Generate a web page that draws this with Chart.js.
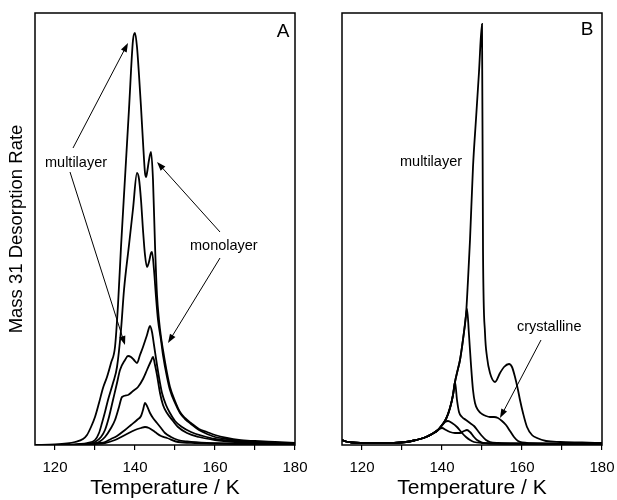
<!DOCTYPE html>
<html><head><meta charset="utf-8">
<script src="https://cdn.jsdelivr.net/npm/chart.js@4.4.0/dist/chart.umd.min.js"></script>
<style>
html,body{margin:0;padding:0;background:#fff;}
#wrap{position:relative;width:617px;height:500px;overflow:hidden;}
#cA{position:absolute;left:0;top:0;}
#cB{position:absolute;left:305px;top:0;}
</style></head><body>
<div id="wrap"><canvas id="cA" width="325" height="500"></canvas><canvas id="cB" width="312" height="500"></canvas></div>
<script>
// ---------- data (temperature K, desorption rate arb. units) ----------
const xTicks = [120,130,140,150,160,170,180];
const xTickLabels = ['120','','140','','160','','180'];
const xTitle = 'Temperature / K';
const yTitle = 'Mass 31 Desorption Rate';

// Panel A
const a1 = [[115,0],[120,0.5],[123,1.5],[125,3],[127,6],[128,10],[129,18],[130,28],[131,42],[132,57],[133,68],[134,82],[135,98],[135.75,140],[136.5,198],[137.5,267],[138.5,336],[139.5,405],[140,412],[140.5,398],[141,370],[141.5,338],[142,303],[142.5,272],[142.75,268],[143,272],[143.5,285],[144,293],[144.5,265],[145,200],[145.5,150],[146,125],[146.5,108],[147,95],[148,72],[148.75,58],[150,44],[151.25,33],[152.5,27],[154,22],[156,16],[158,13],[160,10],[163,7],[166,5],[170,4],[175,3],[180,2]];
const a2 = [[115,0],[122,0],[126,1],[128,2],[130,5],[131,12],[131.75,22],[132.5,33],[133.25,45],[134.5,62],[135.5,78],[136.5,115],[137.25,155],[138.5,200],[139.5,236],[140.5,272],[141,266],[141.5,245],[142,215],[142.5,190],[143,178],[143.5,183],[144,192],[144.25,193],[144.75,175],[145.25,148],[145.75,125],[146.5,105],[147,90],[148,68],[148.75,55],[150,42],[151.25,32],[152.5,26],[154,21],[156,15],[158,11],[160,8],[163,6],[166,4],[170,3],[175,2],[180,1.5]];
const a3 = [[115,0],[124,0],[128,1],[130,3],[131.5,8],[132.5,15],[133.5,28],[134.5,45],[135.5,62],[136.25,75],[137.5,85],[138.25,89],[139,88],[139.75,85],[140.5,82],[141.25,90],[142,98],[143,110],[143.75,119],[144.25,113],[144.75,100],[145.5,80],[146.25,62],[146.75,52],[147.75,40],[148.75,32],[150,24],[151.75,18],[154,13],[157,9],[160,6],[165,4],[170,3],[180,1.5]];
const a4 = [[115,0],[126,0],[129,1],[131,3],[132.5,8],[134,17],[135,25],[136,38],[136.75,48],[138.25,50],[139.5,54],[140.75,58],[142,66],[143,75],[144,84],[144.5,88],[145,80],[145.5,70],[146.25,52],[147,40],[148,32],[149.5,24],[150.75,18],[153,12],[156,8],[160,5],[165,3],[170,2],[180,1]];
const a5 = [[115,0],[126,0],[129,1],[131,2],[132.5,3],[134,6],[135.5,9],[137.5,15],[139,20],[140.5,25],[141.5,29],[142,35],[142.5,42],[143,39],[143.75,32],[144.5,27],[145.5,22],[146.5,17],[147.5,12],[149,8],[150.75,5],[153,3.5],[158,2],[165,1.5],[180,1]];
const a6 = [[115,0],[127,0],[130,1],[132.5,2],[135,5],[137.5,10],[140,15],[141.5,17],[142.5,18],[143.5,17],[145,13],[146.5,9],[148,7],[150.75,3],[155,2],[165,1],[180,0.5]];

// Panel B
const b1 = [[115,5],[116,3.5],[117.5,2.5],[120,2],[125,1.8],[128,2],[131,3],[133,4.5],[134.5,6],[136,8],[137.5,11],[139,15],[140,20],[141,26],[142,37],[142.75,50],[143.25,63],[143.75,72],[144.5,85],[145,98],[145.5,113],[146,130],[146.5,165],[147,205],[147.75,278],[148.5,326],[149.25,373],[150,421],[150.25,195],[150.75,112],[151.25,88],[152,72],[153.25,63],[154.5,72],[155.5,78],[156.75,81],[157.5,78],[158.25,68],[159,55],[159.5,45],[160.25,32],[161.25,18],[162.5,10],[163.75,7],[166,4],[169.5,3],[175,2.5],[180,2]];
const b2 = [[115,5],[116,3.5],[117.5,2.5],[120,2],[125,1.8],[128,2],[131,3],[133,4.5],[134.5,6],[136,8],[137.5,11],[139,15],[140,20],[141,26],[142,37],[142.75,50],[143.25,63],[143.75,72],[144.5,85],[145,98],[145.5,113],[146,130],[146.25,136],[146.75,110],[147.25,80],[147.75,55],[148.25,42],[149,35],[150,31],[151,29],[152,28],[153,28],[154,27],[155,24],[156,20],[157,14],[158,8],[159,4],[160,2.5],[165,1.5],[180,1]];
const b3 = [[115,5],[116,3.5],[117.5,2.5],[120,2],[125,1.8],[128,2],[131,3],[133,4.5],[134.5,6],[136,8],[137.5,11],[139,15],[140,20],[141,26],[142,37],[142.75,50],[143.25,63],[143.75,45],[144.25,33],[145,28],[146,25],[147,22],[148,19],[149,14],[150,9],[151,5],[152,3],[154,2],[160,1.5],[180,1]];
const b4 = [[115,5],[116,3.5],[117.5,2.5],[120,2],[125,1.8],[128,2],[131,3],[133,4.5],[134.5,6],[136,8],[137.5,11],[139,15],[140,19.5],[140.75,23],[141.5,24],[142.5,22],[143.75,18],[145,12],[146,8],[147,5],[148,3],[150,2],[160,1.2],[180,1]];
const b5 = [[115,5],[116,3.5],[117.5,2.5],[120,2],[125,1.8],[128,2],[131,3],[133,4.5],[134.5,6],[136,8],[137.5,11],[139,15],[140,17],[141,15],[142,13],[143.25,12],[144.5,12],[145.5,14],[146.25,15],[147,13],[148,8],[148.75,5],[150,2.5],[152,1.5],[180,1]];

// ---------- drawing ----------
const F = "'Liberation Sans', Arial, Helvetica, sans-serif";
const toPts = arr => arr.map(p => ({x:p[0], y:p[1]}));

const framePlugin = {
  id:'frame',
  afterDatasetsDraw(chart, args, o){
    const {ctx, chartArea:{left,top,right,bottom}} = chart;
    const xs = chart.scales.x, ys = chart.scales.y;
    const px = t => xs.getPixelForValue(t), py = v => ys.getPixelForValue(v);
    ctx.save();
    ctx.strokeStyle = '#000'; ctx.lineWidth = 1.5;
    ctx.strokeRect(left, top, right-left, bottom-top);
    ctx.fillStyle = '#000';
    (o.notes||[]).forEach(n => {
      ctx.font = n.size + 'px ' + F;
      ctx.textAlign = n.align; ctx.textBaseline = 'middle';
      ctx.fillText(n.text, px(n.t), py(n.v));
    });
    (o.arrows||[]).forEach(a => {
      const x1=px(a.t1), y1=py(a.v1), x2=px(a.t2), y2=py(a.v2);
      const ang = Math.atan2(y2-y1, x2-x1), L = 9, W = 3.2;
      ctx.lineWidth = 1;
      ctx.beginPath(); ctx.moveTo(x1,y1);
      ctx.lineTo(x2 - (L-1)*Math.cos(ang), y2 - (L-1)*Math.sin(ang)); ctx.stroke();
      ctx.beginPath(); ctx.moveTo(x2,y2);
      ctx.lineTo(x2 - L*Math.cos(ang) + W*Math.sin(ang), y2 - L*Math.sin(ang) - W*Math.cos(ang));
      ctx.lineTo(x2 - L*Math.cos(ang) - W*Math.sin(ang), y2 - L*Math.sin(ang) + W*Math.cos(ang));
      ctx.closePath(); ctx.fill();
    });
    ctx.restore();
  }
};

function makeChart(id, series, cfg){
  return new Chart(document.getElementById(id), {
    type:'line',
    data:{datasets: series.map(s => ({data: toPts(s), borderColor:'#000', borderWidth:1.8, pointRadius:0, fill:false, cubicInterpolationMode:'monotone'}))},
    plugins:[framePlugin],
    options:{
      responsive:false, animation:false,
      layout:{padding:{top:13, right:cfg.padRight, left:0, bottom:0}},
      plugins:{legend:{display:false}, tooltip:{enabled:false}, frame:{notes:cfg.notes, arrows:cfg.arrows}},
      scales:{
        x:{type:'linear', min:115, max:180,
          afterBuildTicks: s => { s.ticks = xTicks.map(v => ({value:v})); },
          afterFit: s => { s.height = 55; s.paddingLeft = 0; s.paddingRight = 0; },
          grid:{display:true, drawOnChartArea:false, drawTicks:true, tickLength:5, color:'#000', lineWidth:1.2},
          border:{display:false},
          ticks:{autoSkip:false, maxRotation:0, padding:9, color:'#000', font:{family:F, size:15}, callback:(v,i)=>xTickLabels[i]},
          title:{display:true, text:xTitle, color:'#000', font:{family:F, size:21}, padding:{top:0,bottom:-1}}
        },
        y:{type:'linear', min:0, max:432,
          afterFit: s => { s.width = cfg.yWidth; s.paddingTop = 0; s.paddingBottom = 0; },
          ticks:{display:false}, grid:{display:false}, border:{display:false},
          title:{display:cfg.yTitle, text:yTitle, color:'#000', font:{family:F, size:18.5}, padding:{top:6,bottom:0}}
        }
      }
    }
  });
}

makeChart('cA', [a1,a2,a3,a4,a5,a6], {
  padRight:30, yWidth:35, yTitle:true,
  notes:[
    {text:'A', t:177, v:413, size:19, align:'center'},
    {text:'multilayer', t:117.5, v:282, size:14.5, align:'left'},
    {text:'monolayer', t:153.75, v:199, size:14.5, align:'left'}
  ],
  arrows:[
    {t1:124.5, v1:297, t2:138.25, v2:402},
    {t1:123.75, v1:273, t2:137.5, v2:100},
    {t1:161.25, v1:213, t2:145.5, v2:283},
    {t1:161.25, v1:187, t2:148.25, v2:102}
  ]
});
makeChart('cB', [b1,b2,b3,b4,b5], {
  padRight:15, yWidth:37, yTitle:false,
  notes:[
    {text:'B', t:176.25, v:415, size:19, align:'center'},
    {text:'multilayer', t:129.5, v:283, size:14.5, align:'left'},
    {text:'crystalline', t:158.75, v:118, size:14.5, align:'left'}
  ],
  arrows:[
    {t1:164.75, v1:105, t2:154.5, v2:27}
  ]
});
</script>
</body></html>
